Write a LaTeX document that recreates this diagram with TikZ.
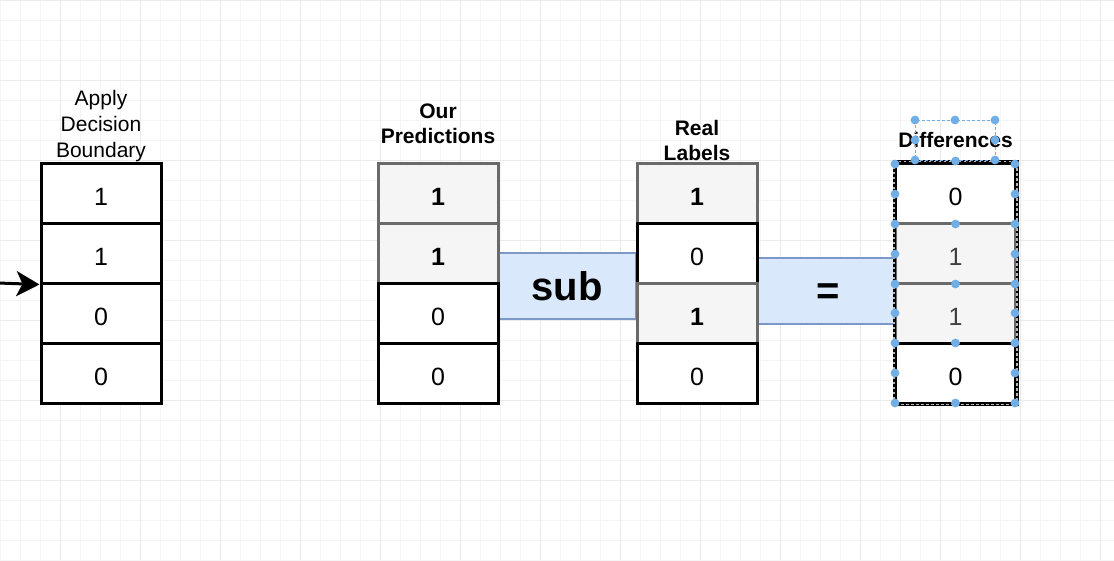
\documentclass[tikz,border=0pt]{standalone}
\usepackage{fontspec}
\setmainfont{Liberation Sans}
\usetikzlibrary{arrows.meta}
\definecolor{gfill}{HTML}{F5F5F5}
\definecolor{gline}{HTML}{6A6A6A}
\definecolor{bfill}{HTML}{DAE8FC}
\definecolor{bline}{HTML}{7B98C8}
\definecolor{handle}{HTML}{72AEE6}
\definecolor{gridminor}{HTML}{F5F5F5}
\definecolor{gridmajor}{HTML}{EAEAEA}
\begin{document}
\begin{tikzpicture}[x=1pt,y=-1pt,
  cellbase/.style={rectangle, line width=3pt, minimum width=120pt, minimum height=60pt, inner sep=0pt, text height=25pt, text depth=0pt, font=\fontsize{25}{30}\selectfont},
  cellw/.style={cellbase, draw=black, fill=white},
  cellg/.style={cellbase, draw=gline, fill=gfill},
  opbox/.style={rectangle, draw=bline, fill=bfill, line width=2.2pt, minimum width=138pt, minimum height=66pt, inner sep=0pt, font=\fontsize{40}{48}\selectfont\bfseries},
  titlebox/.style={align=center, inner sep=0pt, anchor=base, font=\fontsize{21}{26}\selectfont},
  minorline/.style={draw=gridminor, line width=0.8pt},
  majorline/.style={draw=gridmajor, line width=0.9pt},
  hdl/.style={fill=handle},
  arrowline/.style={draw=black, line width=3pt, -{Stealth[length=23pt,width=25pt,inset=6pt]}}
]
\useasboundingbox (0,0) rectangle (1114,560);
\fill[white] (0,0) rectangle (1114,560);
% grid
\foreach \i in {0,...,55} \draw[minorline] (\i*20+0.7,0) -- (\i*20+0.7,560);
\foreach \j in {0,...,28} \draw[minorline] (0,\j*20+0.7) -- (1114,\j*20+0.7);
\foreach \i in {0,...,13} \draw[majorline] (\i*80+60.7,0) -- (\i*80+60.7,560);
\foreach \j in {0,...,6} \draw[majorline] (0,\j*80+0.7) -- (1114,\j*80+0.7);

% operator boxes
\node[opbox] (sub) at (567,286) {sub};
\node[opbox, minimum width=137pt] (eq) at (825.5,291) {};
\node[inner sep=0pt, font=\fontsize{40}{48}\selectfont\bfseries] (eqsign) at (828,294) {=};

% Apply Decision Boundary
\node[cellw] (a1) at (101,193) {1};
\node[cellw] (a2) at (101,253) {1};
\node[cellw] (a3) at (101,313) {0};
\node[cellw] (a4) at (101,373) {0};
\node[titlebox] (ta) at (101,157) {Apply\\Decision\\Boundary};
\coordinate (src) at (-2,283);
\draw[arrowline] (src) -- (a2.south west);

% Our Predictions
\node[cellg, font=\fontsize{25}{30}\selectfont\bfseries] (p1) at (438,193) {1};
\node[cellg, font=\fontsize{25}{30}\selectfont\bfseries] (p2) at (438,253) {1};
\node[cellw] (p3) at (438,313) {0};
\node[cellw] (p4) at (438,373) {0};
\node[titlebox, font=\fontsize{21}{25}\selectfont\bfseries] (tp) at (438,143) {Our\\Predictions};

% Real Labels
\node[cellg, font=\fontsize{25}{30}\selectfont\bfseries] (r1) at (697,193) {1};
\node[cellw] (r2) at (697,253) {0};
\node[cellg, font=\fontsize{25}{30}\selectfont\bfseries] (r3) at (697,313) {1};
\node[cellw] (r4) at (697,373) {0};
\node[titlebox, font=\fontsize{21}{25}\selectfont\bfseries] (tr) at (697,160) {Real\\Labels};

% Differences
\node[cellw] (d1) at (955.5,193) {0};
\node[cellg, text=black!75] (d2) at (955.5,253) {1};
\node[cellg, text=black!75] (d3) at (955.5,313) {1};
\node[cellw] (d4) at (955.5,373) {0};
\node[titlebox, font=\fontsize{21}{25}\selectfont\bfseries] (td) at (955.5,147) {Differences};

% selection overlay
\draw[black, line width=3pt] (d1.north west) rectangle (d4.south east);
\draw[gray!55, line width=1.2pt, dash pattern=on 2.5pt off 2.5pt] (d1.north west) rectangle (d4.south east);
\draw[handle, line width=0.8pt, dash pattern=on 3pt off 2pt] (915,120) rectangle (995,160);
\foreach \x/\y in {915/120,955/120,995/120,915/140,995/140,915/160,995/160}
  \fill[hdl] (\x,\y) circle (4.4);
\foreach \y in {164,194,224,254,284,313,343,373,403} {
  \fill[hdl] (895,\y) circle (4.4);
  \fill[hdl] (1015,\y) circle (4.4);
}
\foreach \y in {161,224,284,343,403}
  \fill[hdl] (955.5,\y) circle (4.4);
\end{tikzpicture}
\end{document}
